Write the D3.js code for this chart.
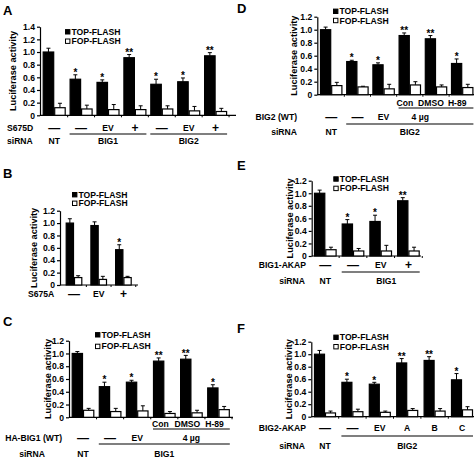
<!DOCTYPE html>
<html><head><meta charset="utf-8">
<script src="https://cdn.jsdelivr.net/npm/d3@7"></script>
<style>
body{margin:0;background:#fff}
svg{display:block}
text{font-family:Arial,"Liberation Sans",sans-serif;font-weight:bold;fill:#000}
</style>
</head><body>
<svg id="chart" width="474" height="458"></svg>
<script>
// ---------------- DATA ----------------
const seriesNames = ["TOP-FLASH", "FOP-FLASH"];
const yLabel = "Luciferase activity";

// Panel A
const A_top    = [1.00, 0.57, 0.52, 0.91, 0.49, 0.53, 0.94];
const A_topErr = [0.06, 0.07, 0.04, 0.05, 0.08, 0.06, 0.05];
const A_fop    = [0.12, 0.10, 0.09, 0.09, 0.10, 0.07, 0.06];
const A_fopErr = [0.07, 0.06, 0.08, 0.06, 0.05, 0.07, 0.05];
const A_sig    = ["", "*", "*", "**", "*", "*", "**"];
const A_treat  = ["—", "—", "EV", "+", "—", "EV", "+"];
const A_sirna  = ["NT", "BIG1", "BIG2"];

// Panel B
const B_top    = [1.00, 0.96, 0.57];
const B_topErr = [0.07, 0.06, 0.08];
const B_fop    = [0.12, 0.09, 0.12];
const B_fopErr = [0.03, 0.05, 0.02];
const B_sig    = ["", "", "*"];
const B_treat  = ["—", "EV", "+"];

// Panel C
const C_top    = [1.00, 0.48, 0.55, 0.88, 0.91, 0.46];
const C_topErr = [0.03, 0.07, 0.03, 0.05, 0.06, 0.05];
const C_fop    = [0.11, 0.09, 0.10, 0.06, 0.07, 0.12];
const C_fopErr = [0.03, 0.05, 0.08, 0.03, 0.04, 0.05];
const C_sig    = ["", "*", "*", "**", "**", "*"];
const C_sub    = ["Con", "DMSO", "H-89"];
const C_treat  = ["—", "—", "EV", "4 µg"];
const C_sirna  = ["NT", "BIG1"];

// Panel D
const D_top    = [1.00, 0.51, 0.46, 0.91, 0.86, 0.48];
const D_topErr = [0.04, 0.02, 0.03, 0.04, 0.05, 0.07];
const D_fop    = [0.14, 0.12, 0.09, 0.15, 0.12, 0.11];
const D_fopErr = [0.05, 0.01, 0.07, 0.05, 0.03, 0.05];
const D_sig    = ["", "*", "*", "**", "**", "*"];
const D_sub    = ["Con", "DMSO", "H-89"];
const D_treat  = ["—", "—", "EV", "4 µg"];
const D_sirna  = ["NT", "BIG2"];

// Panel E
const E_top    = [1.00, 0.51, 0.55, 0.88];
const E_topErr = [0.05, 0.07, 0.10, 0.05];
const E_fop    = [0.10, 0.08, 0.08, 0.08];
const E_fopErr = [0.04, 0.04, 0.09, 0.06];
const E_sig    = ["", "*", "*", "**"];
const E_treat  = ["—", "—", "EV", "+"];
const E_sirna  = ["NT", "BIG1"];

// Panel F
const F_top    = [1.00, 0.55, 0.52, 0.86, 0.90, 0.59];
const F_topErr = [0.06, 0.05, 0.03, 0.07, 0.06, 0.10];
const F_fop    = [0.06, 0.08, 0.07, 0.10, 0.09, 0.11];
const F_fopErr = [0.03, 0.04, 0.02, 0.03, 0.04, 0.05];
const F_sig    = ["", "*", "*", "**", "**", "*"];
const F_treat  = ["—", "—", "EV", "A", "B", "C"];
const F_sirna  = ["NT", "BIG2"];

// ---------------- LAYOUT ----------------
const panels = [
  { letter: "A", lx: 3, ly: 15,
    top: A_top, topErr: A_topErr, fop: A_fop, fopErr: A_fopErr, sig: A_sig,
    x0: 40, xEnd: 236, first: 42.7, step: 26.9, bw: 11.5,
    y0: 115.3, yTopPx: 26.7, yMax: 1.4, ylx: 13,
    legX: 65, legY: [31.8, 41.2],
    rows: [
      { y: 128, title: "S675D", tx: 7, anchor: "start", labels: A_treat, at: "groups" },
      { y: 141, title: "siRNA", tx: 7, anchor: "start", labels: A_sirna, at: [0, [1, 3], [4, 6]] }
    ],
    lines: [{ y: 134, from: 1, to: 3 }, { y: 134, from: 4, to: 6 }] },
  { letter: "B", lx: 3, ly: 178,
    top: B_top, topErr: B_topErr, fop: B_fop, fopErr: B_fopErr, sig: B_sig,
    x0: 60, xEnd: 138, first: 65.7, step: 24.7, bw: 8.3,
    y0: 285, yTopPx: 210.7, yMax: 1.2, ylx: 34,
    legX: 72, legY: [194.7, 203.3],
    rows: [
      { y: 294, title: "S675A", tx: 28, anchor: "start", labels: B_treat, at: "groups" }
    ],
    lines: [] },
  { letter: "C", lx: 3, ly: 326,
    top: C_top, topErr: C_topErr, fop: C_fop, fopErr: C_fopErr, sig: C_sig,
    x0: 69, xEnd: 233, first: 71.7, step: 27.1, bw: 11.3,
    y0: 417.3, yTopPx: 340.7, yMax: 1.2, ylx: 48,
    legX: 95, legY: [334.8, 346.4],
    rows: [
      { y: 424, labels: C_sub, at: [3, 4, 5], dx: -4 },
      { y: 438, title: "HA-BIG1 (WT)", tx: 62, anchor: "end", labels: C_treat, at: [0, 1, 2, 4] },
      { y: 454, title: "siRNA", tx: 45, anchor: "end", labels: C_sirna, at: [0, [1, 5]] }
    ],
    lines: [{ y: 429, from: 3, to: 5 }, { y: 444, from: 1, to: 5 }] },
  { letter: "D", lx: 237, ly: 13,
    top: D_top, topErr: D_topErr, fop: D_fop, fopErr: D_fopErr, sig: D_sig,
    x0: 317.3, xEnd: 474, first: 320, step: 26.2, bw: 11.2,
    y0: 94.7, yTopPx: 16.7, yMax: 1.2, ylx: 294,
    legX: 333, legY: [11.3, 20.5],
    rows: [
      { y: 103, labels: D_sub, at: [3, 4, 5], dx: -5 },
      { y: 117, title: "BIG2 (WT)", tx: 297, anchor: "end", labels: D_treat, at: [0, 1, 2, 3.4] },
      { y: 132, title: "siRNA", tx: 297, anchor: "end", labels: D_sirna, at: [0, [1, 5]] }
    ],
    lines: [{ y: 108, from: 3, to: 5 }, { y: 124, from: 1, to: 5 }] },
  { letter: "E", lx: 237, ly: 170,
    top: E_top, topErr: E_topErr, fop: E_fop, fopErr: E_fopErr, sig: E_sig,
    x0: 311.7, xEnd: 421, first: 314, step: 27.7, bw: 11.3,
    y0: 256, yTopPx: 180.7, yMax: 1.2, ylx: 290,
    legX: 333.3, legY: [179, 188.4],
    rows: [
      { y: 265, title: "BIG1-AKAP", tx: 306, anchor: "end", labels: E_treat, at: "groups" },
      { y: 281, title: "siRNA", tx: 305, anchor: "end", labels: E_sirna, at: [0, 2.2] }
    ],
    lines: [{ y: 272, from: 1, to: 3 }] },
  { letter: "F", lx: 237, ly: 333,
    top: F_top, topErr: F_topErr, fop: F_fop, fopErr: F_fopErr, sig: F_sig,
    x0: 311.3, xEnd: 474, first: 314, step: 27.4, bw: 11,
    y0: 416.7, yTopPx: 341.7, yMax: 1.2, ylx: 289,
    legX: 333.3, legY: [337.3, 346.7],
    rows: [
      { y: 428, title: "BIG2-AKAP", tx: 306, anchor: "end", labels: F_treat, at: "groups" },
      { y: 446, title: "siRNA", tx: 305, anchor: "end", labels: F_sirna, at: [0, [1, 5]] }
    ],
    lines: [{ y: 436, from: 1, to: 5 }] }
];

// ---------------- DRAW ----------------
const svg = d3.select("#chart");
const FS = 8.6;
const bigSym = d => d === "—" || d === "+";

panels.forEach(p => {
  const g = svg.append("g");
  const n = p.top.length;
  const idx = d3.range(n);
  const gap = p.step - 2 * p.bw;
  const x = d3.scaleBand().domain(idx)
    .range([p.first, p.first + n * p.step - gap])
    .paddingInner(gap / p.step).paddingOuter(0);
  const xs = d3.scaleBand().domain(seriesNames).range([0, x.bandwidth()]);
  const y = d3.scaleLinear().domain([0, p.yMax]).range([p.y0, p.yTopPx]);
  const cx = i => {
    const i0 = Math.floor(i), f = i - i0;
    return x(i0) + x.bandwidth() / 2 + f * p.step;
  };
  const spanC = s => (x(s[0]) + x(s[1]) + x.bandwidth()) / 2;
  const pos = a => Array.isArray(a) ? spanC(a) : cx(a);

  // panel letter
  g.append("text").attr("x", p.lx).attr("y", p.ly).style("font-size", "13px").text(p.letter);

  // y axis
  const ticks = d3.range(0, p.yMax + 0.001, 0.2);
  const ax = g.append("g").attr("transform", `translate(${p.x0},0)`)
    .call(d3.axisLeft(y).tickValues(ticks).tickSize(3).tickSizeOuter(0).tickPadding(2)
      .tickFormat(d => d < 0.001 ? "0" : d3.format(".1f")(d)));
  ax.selectAll("path,line").attr("stroke", "#000").attr("stroke-width", 1.2);
  ax.selectAll("text").style("font-size", FS + "px").style("font-family", null).attr("fill", "#000");

  // x axis line
  g.append("line").attr("x1", p.x0).attr("x2", p.xEnd).attr("y1", p.y0).attr("y2", p.y0)
    .attr("stroke", "#000").attr("stroke-width", 1.2);
  // small tick marks between groups
  g.selectAll(".xt").data(idx).join("line")
    .attr("x1", i => x(i) + x.bandwidth() + gap / 2).attr("x2", i => x(i) + x.bandwidth() + gap / 2)
    .attr("y1", p.y0).attr("y2", p.y0 + 2).attr("stroke", "#000").attr("stroke-width", 1);

  // y label
  g.append("text").attr("transform", `translate(${p.ylx},${(p.y0 + p.yTopPx) / 2}) rotate(-90)`)
    .attr("text-anchor", "middle").attr("dy", "0.35em").style("font-size", "9.2px").text(yLabel);

  const sets = [
    { name: seriesNames[0], v: p.top, e: p.topErr, fill: "#000" },
    { name: seriesNames[1], v: p.fop, e: p.fopErr, fill: "#fff" }
  ];
  sets.forEach(s => {
    const bx = i => x(i) + xs(s.name);
    // error bars
    g.selectAll(null).data(idx).join("line")
      .attr("x1", i => bx(i) + xs.bandwidth() / 2).attr("x2", i => bx(i) + xs.bandwidth() / 2)
      .attr("y1", i => y(s.v[i])).attr("y2", i => y(s.v[i] + s.e[i]))
      .attr("stroke", "#000").attr("stroke-width", 1);
    g.selectAll(null).data(idx).join("line")
      .attr("x1", i => bx(i) + xs.bandwidth() / 2 - 2).attr("x2", i => bx(i) + xs.bandwidth() / 2 + 2)
      .attr("y1", i => y(s.v[i] + s.e[i])).attr("y2", i => y(s.v[i] + s.e[i]))
      .attr("stroke", "#000").attr("stroke-width", 1);
    // bars
    g.selectAll(null).data(idx).join("rect")
      .attr("x", i => bx(i) + 0.5).attr("width", xs.bandwidth() - 1)
      .attr("y", i => y(s.v[i])).attr("height", i => p.y0 - y(s.v[i]))
      .attr("fill", s.fill).attr("stroke", "#000").attr("stroke-width", 1.2);
  });

  // significance stars
  g.selectAll(null).data(idx).join("text")
    .attr("x", i => x(i) + xs(seriesNames[0]) + xs.bandwidth() / 2)
    .attr("y", i => y(p.top[i] + p.topErr[i]) + 1.2)
    .attr("text-anchor", "middle").style("font-size", "10px")
    .text(i => p.sig[i]);

  // legend
  seriesNames.forEach((nm, k) => {
    g.append("rect").attr("x", p.legX + 0.5).attr("y", p.legY[k] - 2.2).attr("width", 4.4).attr("height", 4.4)
      .attr("fill", k === 0 ? "#000" : "#fff").attr("stroke", "#000").attr("stroke-width", 1);
    g.append("text").attr("x", p.legX + 6.5).attr("y", p.legY[k]).attr("dy", "0.35em")
      .style("font-size", FS + "px").text(nm);
  });

  // label rows
  p.rows.forEach(r => {
    if (r.title) {
      g.append("text").attr("x", r.tx).attr("y", r.y).attr("dy", "0.35em")
        .attr("text-anchor", r.anchor).style("font-size", FS + "px").text(r.title);
    }
    const positions = r.at === "groups" ? idx : r.at;
    g.selectAll(null).data(r.labels).join("text")
      .attr("x", (d, k) => pos(positions[k]) + (r.dx || 0)).attr("y", r.y)
      .attr("dy", d => bigSym(d) ? "0.32em" : "0.35em")
      .attr("text-anchor", "middle").style("font-size", d => bigSym(d) ? "12px" : FS + "px").text(d => d);
  });
  p.lines.forEach(l => {
    g.append("line").attr("x1", x(l.from)).attr("x2", x(l.to) + x.bandwidth())
      .attr("y1", l.y).attr("y2", l.y).attr("stroke", "#000").attr("stroke-width", 1.2);
  });
});
</script>
</body></html>
